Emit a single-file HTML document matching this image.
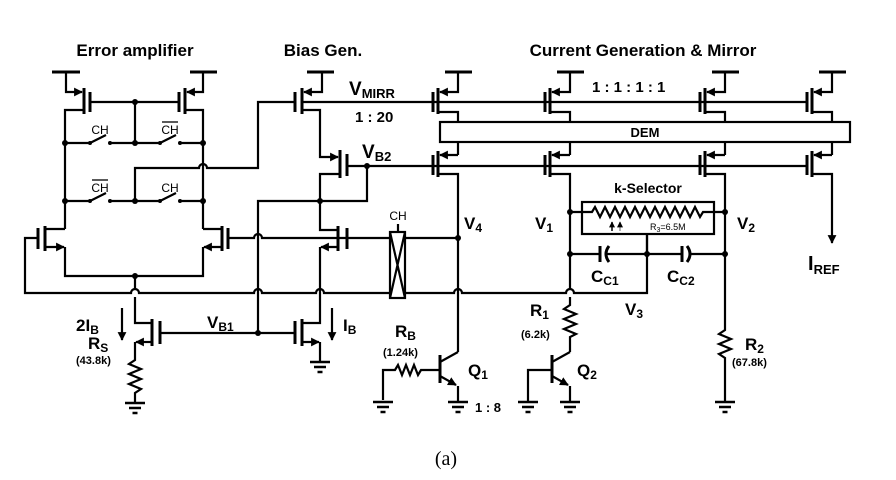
<!DOCTYPE html>
<html><head><style>
body{margin:0;background:#fff}
svg{display:block}
text{font-family:"Liberation Sans",sans-serif;font-weight:bold;fill:#000}
</style></head><body>
<svg width="896" height="480" viewBox="0 0 896 480" xmlns="http://www.w3.org/2000/svg">
<defs>
<marker id="ar" viewBox="0 0 10 10" refX="9" refY="5" markerWidth="4" markerHeight="4" orient="auto"><path d="M0,0L10,5L0,10z" fill="#000"/></marker>
<g id="gnd" stroke="#000" stroke-width="2.5"><line x1="-10" y1="0" x2="10" y2="0"/><line x1="-6" y1="5" x2="6" y2="5"/><line x1="-2.5" y1="10" x2="2.5" y2="10"/></g>
</defs>
<g fill="none" stroke="#000" stroke-width="2.2">
<line x1="52" y1="72" x2="80" y2="72" stroke-width="3"/>
<path d="M66,72V92H82" marker-end="url(#ar)"/>
<line x1="84" y1="88" x2="84" y2="114" stroke-width="3"/>
<line x1="90" y1="92" x2="90" y2="112" stroke-width="3"/>
<path d="M84,110H65V229"/>
<line x1="190" y1="72" x2="217" y2="72" stroke-width="3"/>
<path d="M203,72V92H187" marker-end="url(#ar)"/>
<line x1="185" y1="88" x2="185" y2="114" stroke-width="3"/>
<line x1="179" y1="92" x2="179" y2="112" stroke-width="3"/>
<path d="M185,110H203V229"/>
<path d="M90,102H179M135,102V143"/>
<path d="M65,143H89M111,143H159M181,143H203M90,143L106,135M160,143L176,135"/>
<path d="M65,201H89M111,201H159M181,201H203M90,201L106,193M160,201L176,193"/>
<path d="M135,201V168H199A4,4 0 0 1 207,168H258V102H295"/>
<line x1="307" y1="72" x2="334" y2="72" stroke-width="3"/>
<path d="M322,72V92H304" marker-end="url(#ar)"/>
<line x1="302" y1="88" x2="302" y2="114" stroke-width="3"/>
<line x1="295" y1="92" x2="295" y2="112" stroke-width="3"/>
<path d="M302,102H807"/>
<path d="M302,110H320V157H338" marker-end="url(#ar)"/>
<line x1="340" y1="150" x2="340" y2="178" stroke-width="3"/>
<line x1="347" y1="154" x2="347" y2="176" stroke-width="3"/>
<path d="M340,174H320V201M347,166H807M367,166V201H320M320,201H258V333"/>
<path d="M320,201V230H338"/>
<line x1="338" y1="226" x2="338" y2="251" stroke-width="3"/>
<line x1="347" y1="228" x2="347" y2="249" stroke-width="3"/>
<path d="M338,247H321" marker-end="url(#ar)"/>
<path d="M320,247V323H302"/>
<line x1="302" y1="319" x2="302" y2="346" stroke-width="3"/>
<line x1="295" y1="321" x2="295" y2="344" stroke-width="3"/>
<path d="M302,342H319" marker-end="url(#ar)"/>
<path d="M320,342V362"/>
<line x1="45" y1="226" x2="45" y2="251" stroke-width="3"/>
<line x1="38" y1="228" x2="38" y2="249" stroke-width="3"/>
<path d="M45,229H65"/>
<path d="M45,247H64" marker-end="url(#ar)"/>
<path d="M65,247V276H203V247"/>
<line x1="222" y1="226" x2="222" y2="251" stroke-width="3"/>
<line x1="228" y1="228" x2="228" y2="249" stroke-width="3"/>
<path d="M203,229H222"/>
<path d="M222,247H204" marker-end="url(#ar)"/>
<path d="M38,238H25V293H131A4,4 0 0 1 139,293H254A4,4 0 0 1 262,293H316A4,4 0 0 1 324,293H390"/>
<path d="M228,238H254A4,4 0 0 1 262,238H347M347,238H390M405,238H458"/>
<path d="M405,293H454A4,4 0 0 1 462,293H566A4,4 0 0 1 574,293H647V234"/>
<rect x="390" y="232" width="15" height="66"/>
<path d="M390,232L405,298M405,232L390,298M398,232V224"/>
<path d="M135,276V289M135,297V323H152"/>
<line x1="152" y1="319" x2="152" y2="346" stroke-width="3"/>
<line x1="160" y1="321" x2="160" y2="344" stroke-width="3"/>
<path d="M160,333H295"/>
<path d="M152,342H136" marker-end="url(#ar)"/>
<path d="M135,342V360L129,364L141,369L129,374L141,379L129,384L141,389L135,393V402"/>
<path d="M122,308V340" marker-end="url(#ar)"/>
<path d="M332,308V340" marker-end="url(#ar)"/>
<g>
<line x1="445" y1="72" x2="472" y2="72" stroke-width="3"/><path d="M458,72V92H440" marker-end="url(#ar)"/>
<line x1="438" y1="88" x2="438" y2="114" stroke-width="3"/><line x1="433" y1="92" x2="433" y2="112" stroke-width="3"/>
<path d="M438,112H458V122M458,142V155"/><path d="M458,155H440" marker-end="url(#ar)"/>
<line x1="438" y1="151" x2="438" y2="177" stroke-width="3"/><line x1="433" y1="155" x2="433" y2="175" stroke-width="3"/>
<path d="M438,174H458V352"/>
</g>
<g>
<line x1="557" y1="72" x2="584" y2="72" stroke-width="3"/><path d="M570,72V92H552" marker-end="url(#ar)"/>
<line x1="550" y1="88" x2="550" y2="114" stroke-width="3"/><line x1="545" y1="92" x2="545" y2="112" stroke-width="3"/>
<path d="M550,112H570V122M570,142V155"/><path d="M570,155H552" marker-end="url(#ar)"/>
<line x1="550" y1="151" x2="550" y2="177" stroke-width="3"/><line x1="545" y1="155" x2="545" y2="175" stroke-width="3"/>
<path d="M550,174H570V289M570,297V305L564,309L576,314L564,319L576,324L564,329L576,334L570,337V352"/>
</g>
<g>
<line x1="712" y1="72" x2="739" y2="72" stroke-width="3"/><path d="M725,72V92H707" marker-end="url(#ar)"/>
<line x1="705" y1="88" x2="705" y2="114" stroke-width="3"/><line x1="700" y1="92" x2="700" y2="112" stroke-width="3"/>
<path d="M705,112H725V122M725,142V155"/><path d="M725,155H707" marker-end="url(#ar)"/>
<line x1="705" y1="151" x2="705" y2="177" stroke-width="3"/><line x1="700" y1="155" x2="700" y2="175" stroke-width="3"/>
<path d="M705,174H725V330L719,334L731,339L719,344L731,349L719,354L725,358V402"/>
</g>
<g>
<line x1="819" y1="72" x2="846" y2="72" stroke-width="3"/><path d="M832,72V92H814" marker-end="url(#ar)"/>
<line x1="812" y1="88" x2="812" y2="114" stroke-width="3"/><line x1="807" y1="92" x2="807" y2="112" stroke-width="3"/>
<path d="M812,112H832V122M832,142V155"/><path d="M832,155H814" marker-end="url(#ar)"/>
<line x1="812" y1="151" x2="812" y2="177" stroke-width="3"/><line x1="807" y1="155" x2="807" y2="175" stroke-width="3"/>
<path d="M812,174H832V243" marker-end="url(#ar)"/>
</g>
<rect x="440" y="122" width="410" height="20"/>
<rect x="582" y="202" width="132" height="32"/>
<path d="M570,212H592L595,207L600,217L605,207L610,217L615,207L620,217L625,207L630,217L635,207L640,217L645,207L650,217L655,207L660,217L665,207L670,217L675,207L680,217L685,207L690,217L695,207L700,217L703,212H725"/>
<path d="M570,254H600M607,254H682M689,254H725M647,234V254"/>
<line x1="600" y1="246" x2="600" y2="262" stroke-width="3"/>
<path d="M609,246Q603,254 609,262" stroke-width="3"/>
<line x1="682" y1="246" x2="682" y2="262" stroke-width="3"/>
<path d="M687,246Q693,254 687,262" stroke-width="3"/>
<path d="M612,231V222" stroke-width="1.5" marker-end="url(#ar)"/>
<path d="M620,231V222" stroke="#999" stroke-width="1.5" marker-end="url(#ar)"/>
<line x1="440" y1="355" x2="440" y2="383" stroke-width="3"/>
<path d="M458,352L440,362M383,400V370H395L398,365L402,375L406,365L410,375L414,365L418,375L421,370H440"/>
<path d="M440,376L456,385" marker-end="url(#ar)"/><path d="M458,386V402"/>
<line x1="552" y1="355" x2="552" y2="383" stroke-width="3"/>
<path d="M570,352L552,362M552,370H528V402"/>
<path d="M552,376L568,385" marker-end="url(#ar)"/><path d="M570,386V402"/>
</g>
<g fill="#000">
<circle cx="135" cy="102" r="3"/><circle cx="65" cy="143" r="3"/><circle cx="135" cy="143" r="3"/><circle cx="203" cy="143" r="3"/>
<circle cx="65" cy="201" r="3"/><circle cx="135" cy="201" r="3"/><circle cx="203" cy="201" r="3"/>
<circle cx="90" cy="143" r="2"/><circle cx="110" cy="143" r="2"/><circle cx="160" cy="143" r="2"/><circle cx="180" cy="143" r="2"/>
<circle cx="90" cy="201" r="2"/><circle cx="110" cy="201" r="2"/><circle cx="160" cy="201" r="2"/><circle cx="180" cy="201" r="2"/>
<circle cx="367" cy="166" r="3"/><circle cx="320" cy="201" r="3"/><circle cx="135" cy="276" r="3"/><circle cx="258" cy="333" r="3"/>
<circle cx="458" cy="238" r="3"/><circle cx="570" cy="212" r="3"/><circle cx="725" cy="212" r="3"/>
<circle cx="570" cy="254" r="3"/><circle cx="647" cy="254" r="3"/><circle cx="725" cy="254" r="3"/>
</g>
<use href="#gnd" x="135" y="403"/><use href="#gnd" x="320" y="362"/><use href="#gnd" x="383" y="402"/>
<use href="#gnd" x="458" y="402"/><use href="#gnd" x="528" y="402"/><use href="#gnd" x="570" y="402"/><use href="#gnd" x="725" y="402"/>
<text x="135" y="56" font-size="17" text-anchor="middle">Error amplifier</text>
<text x="323" y="56" font-size="17" text-anchor="middle">Bias Gen.</text>
<text x="643" y="56" font-size="17" text-anchor="middle">Current Generation &amp; Mirror</text>
<text x="100" y="134" font-size="12" text-anchor="middle" style="font-weight:normal">CH</text>
<text x="170" y="134" font-size="12" text-anchor="middle" style="font-weight:normal">CH</text><line x1="162" y1="122" x2="178" y2="122" stroke="#000" stroke-width="1.3"/>
<text x="100" y="192" font-size="12" text-anchor="middle" style="font-weight:normal">CH</text><line x1="92" y1="180" x2="108" y2="180" stroke="#000" stroke-width="1.3"/>
<text x="170" y="192" font-size="12" text-anchor="middle" style="font-weight:normal">CH</text>
<text x="398" y="220" font-size="12" text-anchor="middle" style="font-weight:normal">CH</text>
<text x="349" y="95" font-size="19">V<tspan font-size="13" dy="3">MIRR</tspan></text>
<text x="355" y="122" font-size="15">1 : 20</text>
<text x="362" y="158" font-size="19">V<tspan font-size="13" dy="3">B2</tspan></text>
<text x="464" y="229" font-size="17">V<tspan font-size="12" dy="3">4</tspan></text>
<text x="535" y="229" font-size="17">V<tspan font-size="12" dy="3">1</tspan></text>
<text x="737" y="229" font-size="17">V<tspan font-size="12" dy="3">2</tspan></text>
<text x="625" y="315" font-size="17">V<tspan font-size="12" dy="3">3</tspan></text>
<text x="592" y="92" font-size="15">1 : 1 : 1 : 1</text>
<text x="645" y="137" font-size="13" text-anchor="middle">DEM</text>
<text x="648" y="193" font-size="14" text-anchor="middle">k-Selector</text>
<text x="650" y="230" font-size="9" style="font-weight:normal">R<tspan font-size="7" dy="2">3</tspan><tspan dy="-2">=6.5M</tspan></text>
<text x="591" y="282" font-size="17">C<tspan font-size="12" dy="3">C1</tspan></text>
<text x="667" y="282" font-size="17">C<tspan font-size="12" dy="3">C2</tspan></text>
<text x="808" y="270" font-size="20">I<tspan font-size="13" dy="4">REF</tspan></text>
<text x="76" y="331" font-size="17">2I<tspan font-size="12" dy="3">B</tspan></text>
<text x="207" y="328" font-size="17">V<tspan font-size="12" dy="3">B1</tspan></text>
<text x="343" y="331" font-size="17">I<tspan font-size="12" dy="3">B</tspan></text>
<text x="88" y="349" font-size="17">R<tspan font-size="12" dy="3">S</tspan></text>
<text x="76" y="364" font-size="11">(43.8k)</text>
<text x="395" y="337" font-size="17">R<tspan font-size="12" dy="3">B</tspan></text>
<text x="383" y="356" font-size="11">(1.24k)</text>
<text x="468" y="376" font-size="17">Q<tspan font-size="12" dy="3">1</tspan></text>
<text x="577" y="376" font-size="17">Q<tspan font-size="12" dy="3">2</tspan></text>
<text x="475" y="412" font-size="13">1 : 8</text>
<text x="530" y="316" font-size="17">R<tspan font-size="12" dy="3">1</tspan></text>
<text x="521" y="338" font-size="11">(6.2k)</text>
<text x="745" y="350" font-size="17">R<tspan font-size="12" dy="3">2</tspan></text>
<text x="732" y="366" font-size="11">(67.8k)</text>
<text x="446" y="465" font-size="20" text-anchor="middle" style="font-weight:normal;font-family:'Liberation Serif',serif">(a)</text>
</svg>
</body></html>
